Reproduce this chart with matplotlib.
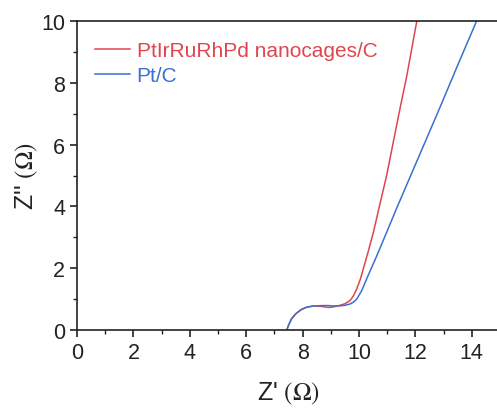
import matplotlib
matplotlib.use("Agg")
import matplotlib.pyplot as plt
from matplotlib.ticker import MultipleLocator

plt.rcParams['font.family'] = ['Liberation Sans', 'DejaVu Sans']
plt.rcParams['mathtext.fontset'] = 'stix'

red_x = [7.44, 7.5, 7.6, 7.75, 7.95, 8.15, 8.4, 8.7, 8.9, 9.05, 9.2, 9.33, 9.5, 9.68, 9.8, 9.92, 10.05, 10.15, 10.33, 10.51, 10.74, 10.98, 11.22, 11.45, 11.69, 11.87, 12.05]
red_y = [0.0, 0.15, 0.35, 0.52, 0.66, 0.74, 0.78, 0.76, 0.73, 0.74, 0.77, 0.8, 0.85, 0.95, 1.1, 1.33, 1.65, 1.97, 2.55, 3.16, 4.07, 5.0, 6.1, 7.15, 8.2, 9.1, 10.0]

blue_x = [7.44, 7.5, 7.6, 7.75, 7.95, 8.15, 8.4, 8.7, 8.9, 9.1, 9.3, 9.5, 9.68, 9.8, 9.92, 10.1, 10.27, 10.63, 10.98, 11.34, 11.81, 12.3, 12.87, 13.5, 14.17]
blue_y = [0.0, 0.15, 0.35, 0.52, 0.66, 0.74, 0.78, 0.79, 0.79, 0.78, 0.78, 0.8, 0.84, 0.9, 1.0, 1.28, 1.65, 2.4, 3.16, 3.95, 4.95, 5.99, 7.2, 8.57, 10.0]

red_label = "PtIrRuRhPd nanocages/C"
blue_label = "Pt/C"
red_color = "#e0454f"
blue_color = "#3a70cf"

fig = plt.figure(figsize=(4.97, 4.10), dpi=100)
ax = fig.add_axes([77/497, 1-331/410, (500-77)/497, (331-22)/410])
ax.plot(red_x, red_y, color=red_color, lw=1.1, label=red_label)
ax.plot(blue_x, blue_y, color=blue_color, lw=1.1, label=blue_label)
ax.set_xlim(0, 15)
ax.set_ylim(0, 10)
ax.xaxis.set_major_locator(MultipleLocator(2))
ax.xaxis.set_minor_locator(MultipleLocator(1))
ax.yaxis.set_major_locator(MultipleLocator(2))
ax.yaxis.set_minor_locator(MultipleLocator(1))
ax.tick_params(which='major', direction='out', length=5, width=1.2, labelsize=15.5, colors='#222222')
ax.tick_params(which='minor', direction='out', length=3, width=1.0, colors='#222222')
ax.spines['right'].set_visible(False)
for s in ['left', 'bottom', 'top']:
    ax.spines[s].set_linewidth(1.2)
    ax.spines[s].set_color('#222222')
ax.set_xlabel("Z' $(\\Omega)$", fontsize=18, labelpad=12, color='#222222')
ax.set_ylabel("Z'' $(\\Omega)$", fontsize=18, labelpad=1, color='#222222')
leg = ax.legend(loc='upper left', frameon=False, fontsize=15, handlelength=1.7,
                handletextpad=0.3, labelspacing=0.3, borderaxespad=0,
                bbox_to_anchor=(0.023, 0.962))
for t, c in zip(leg.get_texts(), [red_color, blue_color]):
    t.set_color(c)
fig.savefig("out.png", dpi=100)
